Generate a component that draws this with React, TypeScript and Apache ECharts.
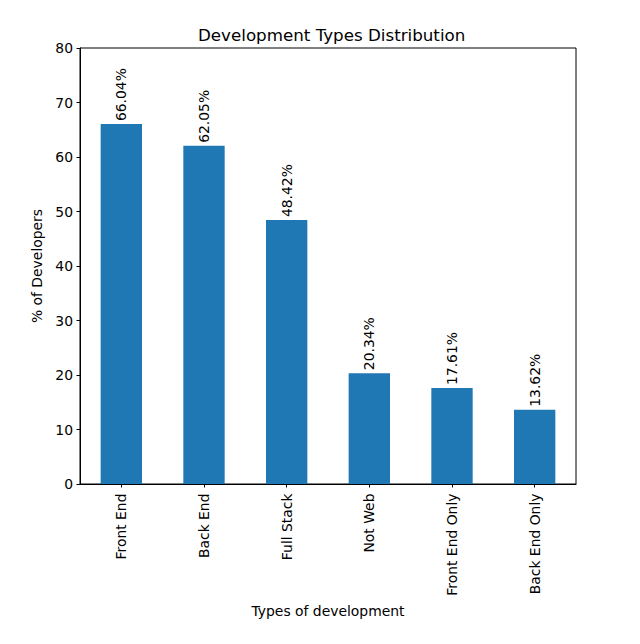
import React, { useEffect, useRef } from "react";
import * as echarts from "echarts";

const categories = ["Front End", "Back End", "Full Stack", "Not Web", "Front End Only", "Back End Only"];
const values = [66.04, 62.05, 48.42, 20.34, 17.61, 13.62];
const yTicks = { min: 0, max: 80, interval: 10 };

const FONT = "DejaVu Sans";

export default function App() {
  const ref = useRef<HTMLDivElement>(null);
  useEffect(() => {
    if (!ref.current) return;
    const chart = echarts.init(ref.current, null, { renderer: "svg" });
    chart.setOption({
      animation: false,
      backgroundColor: "#ffffff",
      textStyle: { fontFamily: FONT },
      title: {
        text: "Development Types Distribution",
        left: 193,
        top: 21,
        textStyle: { fontFamily: FONT, fontSize: 16.7, fontWeight: "normal", color: "#000" },
      },
      grid: {
        left: 80,
        right: 64,
        top: 48,
        bottom: 160,
        show: true,
        borderColor: "#000",
        borderWidth: 1,
        backgroundColor: "transparent",
      },
      xAxis: {
        type: "category",
        data: categories,
        name: "Types of development",
        nameLocation: "middle",
        nameGap: 117,
        nameTextStyle: { fontFamily: FONT, fontSize: 13.9, color: "#000" },
        axisLine: { show: true, lineStyle: { color: "#000", width: 1 } },
        axisTick: { show: true, alignWithLabel: true, length: 3.5, lineStyle: { color: "#000" } },
        axisLabel: { rotate: 90, fontFamily: FONT, fontSize: 13.9, color: "#000", margin: 9.5 },
        splitLine: { show: false },
      },
      yAxis: {
        type: "value",
        min: yTicks.min,
        max: yTicks.max,
        interval: yTicks.interval,
        name: "% of Developers",
        nameLocation: "middle",
        nameRotate: 90,
        nameGap: 33,
        nameTextStyle: { fontFamily: FONT, fontSize: 13.9, color: "#000" },
        axisLine: { show: true, lineStyle: { color: "#000", width: 1 } },
        axisTick: { show: true, length: 3.5, lineStyle: { color: "#000" } },
        axisLabel: { fontFamily: FONT, fontSize: 13.9, color: "#000", margin: 7 },
        splitLine: { show: false },
      },
      series: [
        {
          type: "bar",
          data: values,
          barWidth: "50%",
          itemStyle: { color: "#1f77b4" },
          label: {
            show: true,
            position: "top",
            rotate: 90,
            align: "left",
            verticalAlign: "middle",
            distance: 3,
            fontFamily: FONT,
            fontSize: 13.9,
            color: "#000",
            formatter: (p: any) => `${p.value.toFixed(2)}%`,
          },
        },
      ],
    });
    return () => chart.dispose();
  }, []);
  return (
    <div
      ref={ref}
      style={{ position: "fixed", left: 0, top: 0, width: 640, height: 644 }}
    />
  );
}
